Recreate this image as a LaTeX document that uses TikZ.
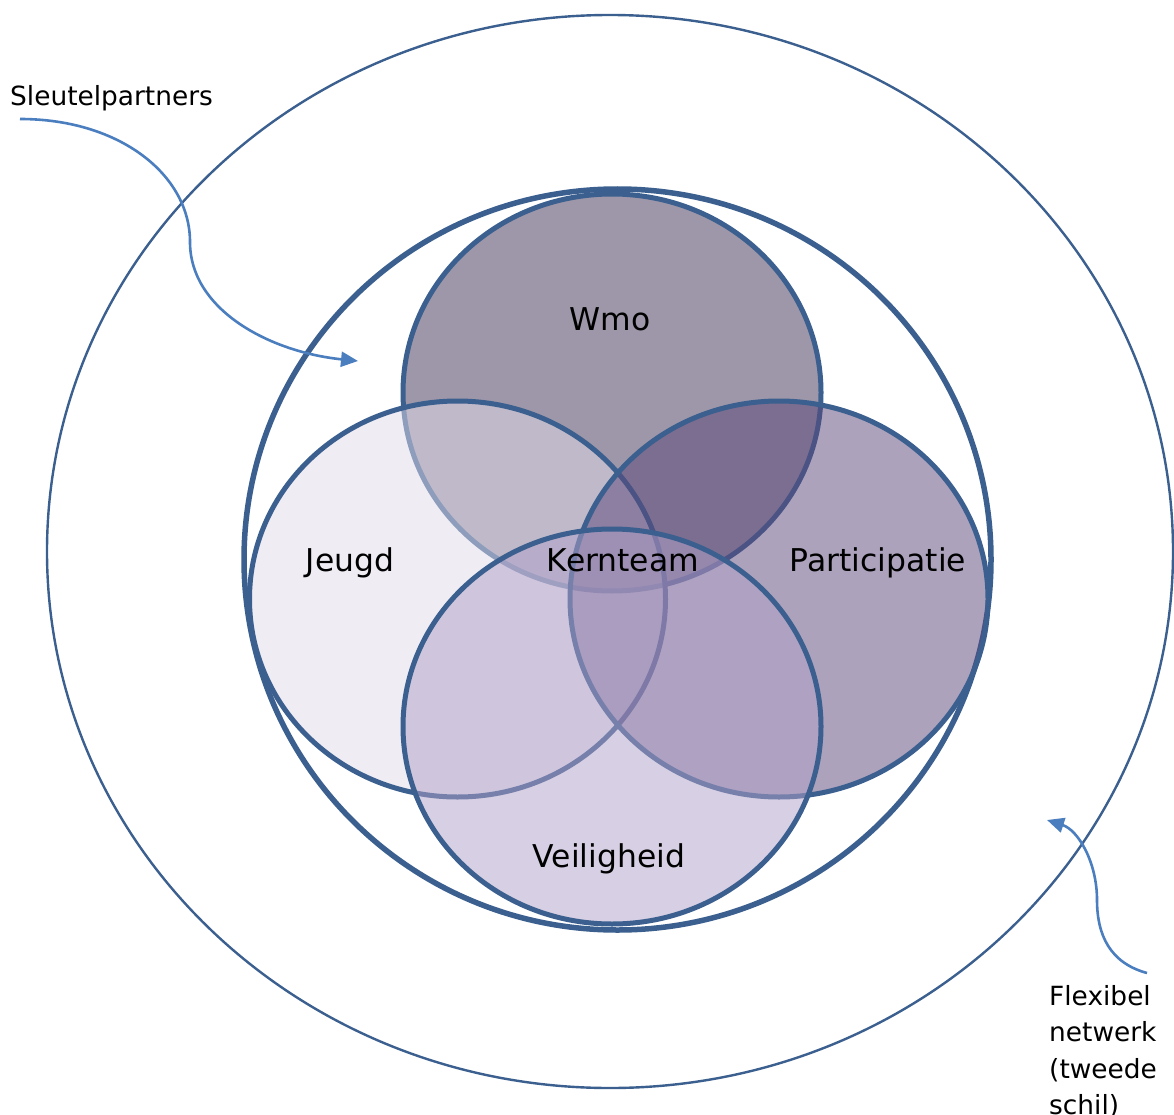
\documentclass[tikz,border=0pt]{standalone}
\usepackage{fontspec}
\setmainfont{DejaVu Sans}
\usetikzlibrary{arrows.meta}

\definecolor{ringblue}{HTML}{3B5F8E}
\definecolor{arrowblue}{HTML}{4A7EBF}
\definecolor{wmofill}{HTML}{3F3155}
\definecolor{jeugdfill}{HTML}{E1DBEA}
\definecolor{partfill}{HTML}{5B477B}
\definecolor{veilfill}{HTML}{B1A1C9}

\tikzset{
  vennset/.style={draw=ringblue, line width=5pt, fill opacity=0.5},
  shellring/.style={draw=ringblue},
  lbl/.style={font=\fontsize{31.4}{37}\selectfont, anchor=base, inner sep=0pt},
  sidelbl/.style={font=\fontsize{26.4}{36.5}\selectfont, inner sep=0pt, align=left},
  pointer/.style={draw=arrowblue, line width=2.6pt,
    -{Triangle[length=17pt,width=15pt]}}
}

\begin{document}
\begin{tikzpicture}[x=1pt,y=-1pt]
\useasboundingbox (0,0) rectangle (1174,1115);

% outer shell: flexible network
\draw[shellring, line width=2.4pt] (610,551.5) ellipse [x radius=563, y radius=536.5];
% second shell: key partners
\draw[shellring, line width=5.5pt, fill=white] (617.5,559.5) ellipse [x radius=373.5, y radius=370.5];

% the four domains, drawn in stacking order
\draw[vennset, fill=wmofill]   (612,392.5) ellipse [x radius=209, y radius=198.5];
\draw[vennset, fill=jeugdfill] (457.5,599) ellipse [x radius=208, y radius=198];
\draw[vennset, fill=partfill]  (779,599)   ellipse [x radius=209, y radius=198];
\draw[vennset, fill=veilfill]  (612,726.5) ellipse [x radius=209, y radius=197.5];

% domain labels
\node[lbl] (wmo)   at (610,330) {Wmo};
\node[lbl] (jeugd) at (350,571) {Jeugd};
\node[lbl] (kern)  at (623,571) {Kernteam};
\node[lbl] (part)  at (878,571) {Participatie};
\node[lbl] (veil)  at (609,867) {Veiligheid};

% side labels
\node[sidelbl, anchor=base west] (sleutel) at (10,106) {Sleutelpartners};
\node[sidelbl, anchor=north west] (flex) at (1049,985)
  {Flexibel\\netwerk\\(tweede\\schil)};

% pointers
\coordinate (sp-start) at (20,119);
\coordinate (sp-tip)   at (358,361);
\draw[pointer] (sp-start) .. controls (120,119) and (190,175) .. (190,242)
  .. controls (190,310) and (270,352) .. (sp-tip);

\coordinate (fx-start) at (1147,973);
\coordinate (fx-tip)   at (1047,820);
\draw[pointer] (fx-start) .. controls (1110,963) and (1097,935) .. (1097,900)
  .. controls (1097,862) and (1078,830) .. (fx-tip);
\end{tikzpicture}
\end{document}
